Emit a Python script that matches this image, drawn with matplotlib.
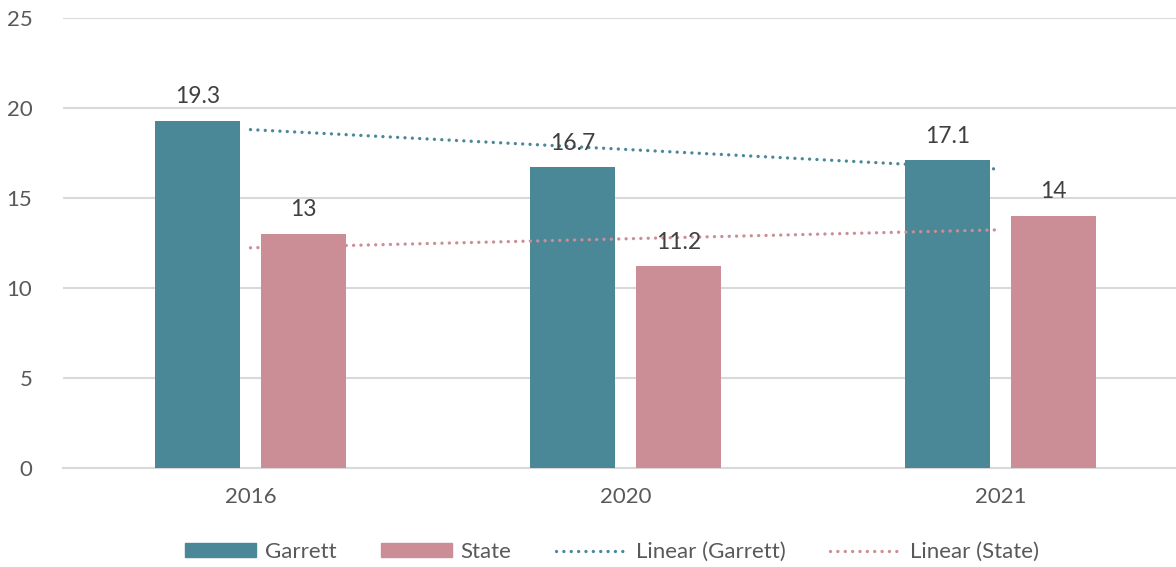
import matplotlib.pyplot as plt
import matplotlib.patches as mpatches
from matplotlib.lines import Line2D
import numpy as np

# chart data
years = ['2016', '2020', '2021']
garrett = [19.3, 16.7, 17.1]
state = [13, 11.2, 14]

teal = '#4A8898'
pink = '#CC8E96'
grid_col = '#D9D9D9'
txt_col = '#404040'

plt.rcParams['font.family'] = ['Lato', 'DejaVu Sans']

fig = plt.figure(figsize=(11.76, 5.67), dpi=100)
ax = fig.add_axes([63/1176, 1 - 468/567, 1125/1176, 450/567])

x = np.arange(len(years))
bw = 0.227
off = 0.142
b1 = ax.bar(x - off, garrett, bw, color=teal, zorder=3)
b2 = ax.bar(x + off, state, bw, color=pink, zorder=3)

for rect, v in zip(b1, garrett):
    ax.text(rect.get_x() + rect.get_width()/2, v + 0.75, f'{v:g}', ha='center', va='bottom',
            fontsize=16.5, color=txt_col, zorder=5)
for rect, v in zip(b2, state):
    ax.text(rect.get_x() + rect.get_width()/2, v + 0.75, f'{v:g}', ha='center', va='bottom',
            fontsize=16.5, color=txt_col, zorder=5)

# linear trendlines, fitted on category index like Excel does
xi = np.arange(1, len(years) + 1)
g_fit = np.polyfit(xi, garrett, 1)
s_fit = np.polyfit(xi, state, 1)
dot = (0, (0.01, 2.2))
ax.plot(x, np.polyval(g_fit, xi), color=teal, lw=2.4, linestyle=dot,
        dash_capstyle='round', zorder=4)
ax.plot(x, np.polyval(s_fit, xi), color=pink, lw=2.4, linestyle=dot,
        dash_capstyle='round', zorder=4)

ax.set_ylim(0, 25)
ax.set_yticks(range(0, 26, 5))
ax.set_xlim(-0.5, 2.5)
ax.set_xticks(x)
ax.set_xticklabels(years)
ax.yaxis.grid(True, color=grid_col, lw=1.5, zorder=0)
ax.set_axisbelow(True)
for s in ['top', 'right', 'left']:
    ax.spines[s].set_visible(False)
ax.spines['bottom'].set_color(grid_col)
ax.spines['bottom'].set_linewidth(1.5)
ax.tick_params(axis='both', length=0, labelsize=16, labelcolor='#595959')
ax.tick_params(axis='x', pad=14)
ax.tick_params(axis='y', pad=22)

handles = [mpatches.Patch(color=teal, label='Garrett'),
           mpatches.Patch(color=pink, label='State'),
           Line2D([], [], color=teal, lw=2.4, linestyle=dot, dash_capstyle='round',
                  label='Linear (Garrett)'),
           Line2D([], [], color=pink, lw=2.4, linestyle=dot, dash_capstyle='round',
                  label='Linear (State)')]
fig.legend(handles=handles, loc='center', bbox_to_anchor=(612/1176, 1 - 552/567), ncol=4,
           frameon=False, fontsize=16, handlelength=3.2, handleheight=0.6,
           columnspacing=2.0, handletextpad=0.4, labelcolor='#595959')

fig.savefig('out.png', dpi=100)
